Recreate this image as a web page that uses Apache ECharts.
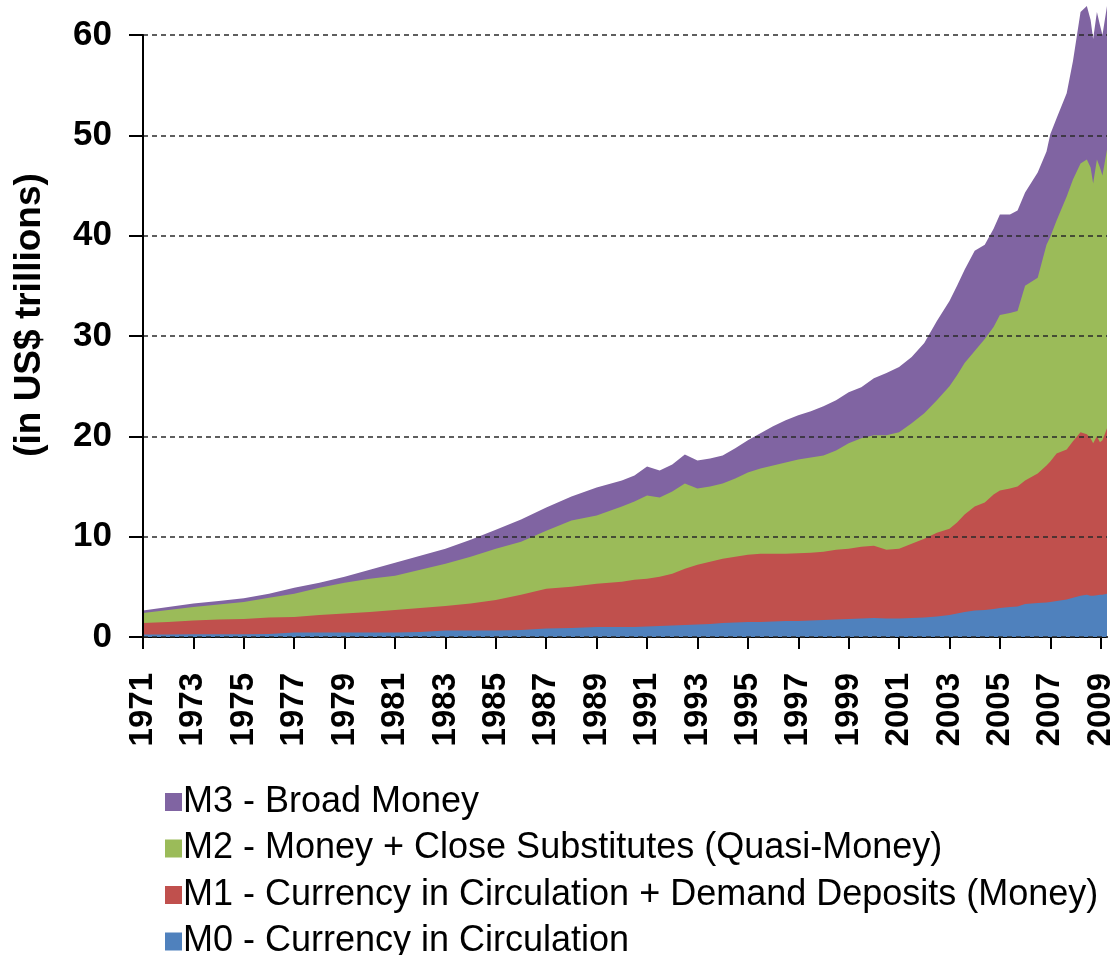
<!DOCTYPE html>
<html>
<head>
<meta charset="utf-8">
<script src="https://cdn.jsdelivr.net/npm/echarts@6/dist/echarts.min.js"></script>
<style>
html,body{margin:0;padding:0;background:#fff;}
#chart{width:1117px;height:955px;}
</style>
</head>
<body>
<div id="chart"></div>
<script>
// Years (decimal) of the sampled points
const years = [1971,1972,1973,1974,1975,1976,1977,1978,1979,1980,1981,1982,1983,1984,1985,1986,1987,1988,1989,1990,1990.5,1991,1991.5,1992,1992.5,1993,1993.5,1994,1994.5,1995,1995.5,1996,1996.5,1997,1997.5,1998,1998.5,1999,1999.5,2000,2000.5,2001,2001.5,2002,2002.5,2003,2003.3,2003.6,2004,2004.4,2004.75,2005,2005.4,2005.7,2006,2006.5,2006.85,2007,2007.25,2007.65,2007.9,2008.2,2008.45,2008.6,2008.7,2008.85,2008.97,2009.07,2009.25];
// M0 - Currency in Circulation (US$ trillions)
const m0 = [0.25,0.25,0.27,0.28,0.28,0.3,0.45,0.45,0.45,0.45,0.45,0.5,0.65,0.65,0.65,0.7,0.85,0.9,1.0,1.0,1.0,1.05,1.1,1.15,1.2,1.25,1.3,1.4,1.45,1.5,1.5,1.55,1.6,1.6,1.65,1.7,1.75,1.8,1.85,1.9,1.85,1.85,1.9,1.95,2.05,2.2,2.35,2.5,2.65,2.7,2.8,2.9,3.0,3.05,3.3,3.4,3.45,3.5,3.6,3.75,3.9,4.1,4.2,4.1,4.1,4.15,4.2,4.2,4.3];
// M1 - Currency in Circulation + Demand Deposits
const m1 = [1.4,1.5,1.65,1.75,1.8,1.95,2.0,2.2,2.35,2.5,2.7,2.9,3.1,3.35,3.7,4.2,4.8,5.0,5.3,5.5,5.7,5.8,6.0,6.3,6.8,7.2,7.5,7.8,8.0,8.2,8.3,8.3,8.3,8.35,8.4,8.5,8.7,8.8,9.0,9.1,8.7,8.8,9.3,9.8,10.4,10.8,11.4,12.2,13.0,13.4,14.2,14.6,14.8,15.0,15.6,16.3,17.1,17.5,18.3,18.7,19.5,20.4,20.2,19.8,19.3,20.0,19.4,19.6,20.8];
// M2 - Money + Close Substitutes
const m2 = [2.4,2.7,3.0,3.25,3.5,3.9,4.3,4.9,5.4,5.8,6.1,6.7,7.3,8.0,8.8,9.5,10.6,11.6,12.1,13.0,13.5,14.1,13.9,14.5,15.3,14.8,15.0,15.3,15.8,16.4,16.8,17.1,17.4,17.7,17.9,18.1,18.6,19.3,19.8,20.1,20.1,20.4,21.3,22.3,23.6,25.0,26.1,27.3,28.5,29.7,30.9,32.1,32.3,32.5,35.0,35.8,39.1,39.9,41.5,43.9,45.6,47.2,47.6,46.8,45.2,47.6,46.8,46.0,48.6];
// M3 - Broad Money
const m3 = [2.65,3.0,3.35,3.6,3.85,4.3,4.9,5.4,6.0,6.7,7.4,8.1,8.8,9.7,10.7,11.7,12.9,14.0,14.9,15.6,16.1,17.0,16.6,17.2,18.2,17.6,17.8,18.1,18.8,19.6,20.3,21.0,21.6,22.1,22.5,23.0,23.6,24.4,24.9,25.8,26.3,26.9,27.9,29.3,31.5,33.5,35.0,36.6,38.5,39.1,40.7,42.1,42.1,42.5,44.3,46.3,48.4,50.1,51.7,54.2,57.4,62.3,62.9,61.5,59.6,62.3,61.0,60.0,62.9];

const tickYears = [1971,1973,1975,1977,1979,1981,1983,1985,1987,1989,1991,1993,1995,1997,1999,2001,2003,2005,2007,2009];
const seriesNames = ['M3 - Broad Money','M2 - Money + Close Substitutes (Quasi-Money)','M1 - Currency in Circulation + Demand Deposits (Money)','M0 - Currency in Circulation'];
const seriesValues = [m3, m2, m1, m0];
const colors = ['#8064A2','#9BBB59','#C0504D','#4F81BD'];

const chart = echarts.init(document.getElementById('chart'), null, {renderer:'canvas'});
const series = seriesNames.map((name, i) => ({
  name: name,
  type: 'line',
  data: years.map((y, k) => [y, seriesValues[i][k]]),
  showSymbol: false,
  symbol: 'none',
  lineStyle: {width: 0},
  itemStyle: {color: colors[i]},
  areaStyle: {color: colors[i], opacity: 1},
  clip: false,
  z: 2 + i,
  silent: true,
  animation: false
}));

chart.setOption({
  animation: false,
  backgroundColor: '#ffffff',
  grid: {left: 143, right: 10, top: 35, bottom: 318, containLabel: false, outerBoundsMode: 'none'},
  xAxis: {
    type: 'value',
    min: 1971,
    max: 2009.25,
    interval: 2,
    splitLine: {show: false},
    axisLine: {show: true, onZero: false, lineStyle: {color: '#000', width: 2}},
    axisTick: {show: true, inside: false, length: 12, customValues: tickYears, lineStyle: {color: '#000', width: 2}},
    axisLabel: {
      customValues: tickYears,
      rotate: 90,
      margin: 36,
      fontFamily: 'Liberation Sans',
      fontWeight: 'bold',
      fontSize: 33,
      color: '#000',
      formatter: v => String(v)
    }
  },
  yAxis: {
    type: 'value',
    min: 0,
    max: 60,
    interval: 10,
    name: '(in US$ trillions)',
    nameLocation: 'middle',
    nameRotate: 90,
    nameGap: 95,
    nameTextStyle: {fontFamily: 'Liberation Sans', fontWeight: 'bold', fontSize: 37, color: '#000', padding: [0, 0, 0, 42]},
    axisLine: {show: true, lineStyle: {color: '#000', width: 2}},
    axisTick: {show: true, inside: false, length: 14, lineStyle: {color: '#000', width: 2}},
    axisLabel: {margin: 31, fontFamily: 'Liberation Sans', fontWeight: 'bold', fontSize: 35, color: '#000'},
    splitLine: {show: true, lineStyle: {color: '#2a2a2a', width: 1.5, type: [5, 4]}},
    z: 10
  },
  legend: {
    orient: 'vertical',
    left: 165,
    top: 784,
    height: 200,
    padding: 0,
    itemWidth: 17,
    itemHeight: 18,
    itemGap: 10.5,
    icon: 'rect',
    data: seriesNames,
    textStyle: {fontFamily: 'Liberation Sans', fontSize: 36, color: '#000', lineHeight: 36, padding: [0, 0, 0, -4]}
  },
  series: series
});
</script>
</body>
</html>
